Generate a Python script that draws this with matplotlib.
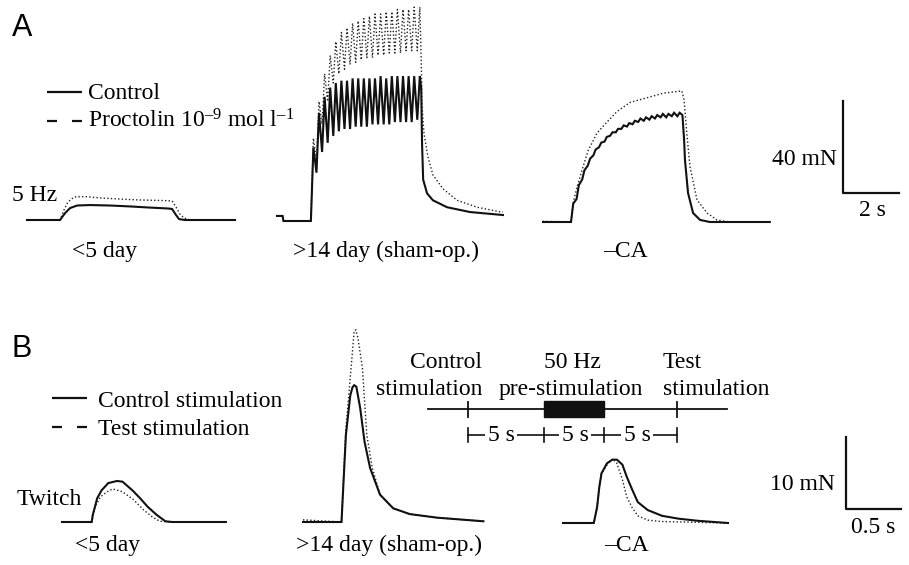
import matplotlib.pyplot as plt
from matplotlib.patches import Rectangle

plt.rcParams['font.family'] = ['Liberation Serif', 'DejaVu Serif']
plt.rcParams['mathtext.fontset'] = 'custom'
plt.rcParams['mathtext.rm'] = 'Liberation Serif'
plt.rcParams['mathtext.it'] = 'Liberation Serif:italic'

W, H = 909, 565

# ---------------- data: time (s), force (mN) ----------------
# A, 5 Hz stimulation, <5 day
a_young_ctrl_t = [0.00, 1.18, 1.36, 1.54, 1.79, 2.25, 2.96, 3.68, 4.39, 5.04, 5.18, 5.32, 5.43, 5.64, 7.43]
a_young_ctrl_f = [0.0, 0.0, 3.0, 5.2, 6.3, 6.5, 6.3, 5.9, 5.4, 5.0, 4.8, 2.2, 0.4, 0.0, 0.0]
a_young_proc_t = [0.00, 1.18, 1.32, 1.46, 1.68, 2.07, 2.61, 3.32, 4.04, 4.75, 5.18, 5.32, 5.46, 5.61, 5.82, 7.43]
a_young_proc_f = [0.0, 0.0, 4.3, 7.8, 10.0, 10.2, 9.6, 9.1, 8.7, 8.5, 8.3, 5.7, 2.6, 0.9, 0.0, 0.0]

# A, >14 day (sham-op.)
a_sham_ctrl_t = [0.00, 0.20, 0.23, 1.21,
                 1.30, 1.41, 1.50, 1.61, 1.70, 1.81, 1.90, 2.01, 2.10, 2.21,
                 2.30, 2.41, 2.50, 2.61, 2.70, 2.81, 2.90, 3.01, 3.10, 3.21,
                 3.30, 3.41, 3.50, 3.61, 3.70, 3.81, 3.90, 4.01, 4.10, 4.21,
                 4.30, 4.41, 4.50, 4.61, 4.70, 4.81, 4.90, 5.01, 5.10,
                 5.15, 5.18, 5.22, 5.36, 5.57, 6.07, 6.89, 8.07]
a_sham_ctrl_f = [2.2, 2.2, 0.0, 0.0,
                 32, 21, 47, 30, 54, 34, 58, 37, 60, 39,
                 61, 40, 61, 40, 62, 41, 62, 41, 62, 41,
                 62, 42, 62, 42, 63, 42, 62, 42, 63, 43,
                 63, 43, 63, 43, 63, 43, 63, 44, 63,
                 58, 34, 18, 12, 9, 6, 3.9, 2.6]
a_sham_proc_t = [0.00, 0.20, 0.23, 1.21,
                 1.30, 1.41, 1.50, 1.61, 1.70, 1.81, 1.90, 2.01, 2.10, 2.21,
                 2.30, 2.41, 2.50, 2.61, 2.70, 2.81, 2.90, 3.01, 3.10, 3.21,
                 3.30, 3.41, 3.50, 3.61, 3.70, 3.81, 3.90, 4.01, 4.10, 4.21,
                 4.30, 4.41, 4.50, 4.61, 4.70, 4.81, 4.90, 5.01, 5.10,
                 5.15, 5.18, 5.25, 5.39, 5.57, 5.93, 6.43, 7.14, 7.96, 8.07]
a_sham_proc_f = [2.2, 2.2, 0.0, 0.0,
                 36, 26, 52, 42, 64, 52, 72, 60, 78, 64,
                 82, 66, 84, 68, 86, 69, 87, 70, 88, 71,
                 89, 71, 90, 72, 90, 72, 91, 73, 91, 73,
                 92, 73, 92, 74, 92, 74, 93, 74, 93,
                 70, 50, 38, 28, 20, 14, 9, 6, 4, 4]

# A, -CA
a_ca_ctrl_t = [0.00, 1.00, 1.08, 1.20, 1.28, 1.40, 1.48, 1.60, 1.68, 1.80, 1.88,
               2.00, 2.08, 2.20, 2.28, 2.40, 2.48, 2.60, 2.68, 2.80, 2.88,
               3.00, 3.08, 3.20, 3.28, 3.40, 3.48, 3.60, 3.68, 3.80, 3.88,
               4.00, 4.08, 4.20, 4.28, 4.40, 4.48, 4.60, 4.68, 4.80, 4.88, 4.98,
               5.04, 5.07, 5.18, 5.36, 5.61, 5.96, 8.10]
a_ca_ctrl_f = [0.0, 0.0, 8.0, 10.0, 16.0, 18.5, 22.5, 24.5, 27.5, 29.0, 31.5,
               32.5, 34.5, 35.0, 37.0, 37.5, 39.0, 39.0, 40.5, 40.5, 42.0,
               41.5, 43.0, 42.5, 44.0, 43.5, 45.0, 44.0, 45.5, 44.5, 46.0,
               45.0, 46.5, 45.5, 47.0, 45.5, 47.0, 46.0, 47.5, 46.0, 47.5, 46.5,
               35.6, 27.0, 12.6, 3.9, 0.9, 0.0, 0.0]
a_ca_proc_t = [0.00, 1.00, 1.07, 1.21, 1.43, 1.61, 1.93, 2.29, 2.64, 3.11, 3.71, 4.29, 4.96,
               5.04, 5.14, 5.25, 5.50, 5.86, 6.21, 6.68, 8.10]
a_ca_proc_f = [0.3, 0.0, 8.0, 15.0, 24.0, 31.0, 38.7, 43.5, 48.0, 52.0, 54.0, 56.0, 57.0,
               53.0, 38.0, 24.0, 9.6, 3.9, 0.9, 0.0, 0.0]

# B, twitches, <5 day
b_young_ctrl_t = [0.00, 0.27, 0.28, 0.32, 0.36, 0.42, 0.50, 0.55, 0.64, 0.71, 0.78, 0.86, 0.94, 1.00, 1.49]
b_young_ctrl_f = [0.0, 0.0, 1.0, 3.3, 4.4, 5.4, 5.7, 5.6, 4.4, 3.3, 2.1, 1.0, 0.1, 0.0, 0.0]
b_young_test_t = [0.00, 0.27, 0.30, 0.35, 0.41, 0.46, 0.55, 0.65, 0.74, 0.83, 0.89, 1.00, 1.49]
b_young_test_f = [0.0, 0.0, 2.1, 3.5, 4.2, 4.6, 4.2, 3.1, 1.7, 0.6, 0.1, 0.0, 0.0]

# B, >14 day (sham-op.)
b_sham_ctrl_t = [0.00, 0.35, 0.39, 0.43, 0.45, 0.465, 0.485, 0.52, 0.56, 0.61, 0.70, 0.82, 0.97, 1.22, 1.64]
b_sham_ctrl_f = [0.0, 0.0, 12.1, 17.6, 18.7, 19.0, 18.8, 15.8, 11.1, 7.5, 3.8, 1.9, 1.1, 0.6, 0.1]
b_sham_test_t = [0.00, 0.35, 0.39, 0.43, 0.465, 0.48, 0.50, 0.54, 0.58, 0.63, 0.70, 0.82, 0.97, 1.22, 1.64]
b_sham_test_f = [0.3, 0.0, 13.0, 20.1, 26.5, 26.7, 25.5, 21.4, 12.1, 7.5, 3.8, 1.9, 1.1, 0.6, 0.1]

# B, -CA
b_ca_ctrl_t = [0.00, 0.28, 0.31, 0.33, 0.35, 0.40, 0.45, 0.49, 0.54, 0.58, 0.63, 0.68, 0.77, 0.90, 1.05, 1.23, 1.50]
b_ca_ctrl_f = [0.0, 0.0, 2.2, 5.0, 6.9, 8.3, 8.8, 8.8, 8.1, 6.4, 4.6, 2.9, 1.8, 1.0, 0.6, 0.3, 0.0]
b_ca_test_t = [0.00, 0.28, 0.31, 0.33, 0.35, 0.41, 0.45, 0.49, 0.54, 0.58, 0.63, 0.68, 0.77, 0.90, 1.50]
b_ca_test_f = [0.0, 0.0, 2.2, 5.0, 6.9, 8.3, 8.9, 8.3, 6.0, 3.6, 2.1, 1.0, 0.4, 0.2, 0.0]

group_labels = ['<5 day', '>14 day (sham-op.)', '\u2013CA']

# ---------------- layout (pixels) ----------------
A_SX, A_SY = 28.0, 2.3     # px per s, px per mN
B_SX, B_SY = 110.0, 7.2


def trace_axes(fig, x0, y0, sx, sy):
    ax = fig.add_axes([0, 0, 1, 1])
    ax.set_xlim(-x0 / sx, (W - x0) / sx)
    ax.set_ylim((y0 - H) / sy, y0 / sy)
    ax.axis('off')
    ax.patch.set_alpha(0)
    return ax


def draw_pair(ax, t1, f1, t2, f2):
    ax.plot(t2, f2, color='#222222', lw=1.0, ls=(0, (1, 1.6)))
    ax.plot(t1, f1, color='#111111', lw=1.5, solid_joinstyle='miter')


fig = plt.figure(figsize=(W / 100, H / 100), dpi=100)

draw_pair(trace_axes(fig, 27, 220, A_SX, A_SY), a_young_ctrl_t, a_young_ctrl_f, a_young_proc_t, a_young_proc_f)
draw_pair(trace_axes(fig, 277, 221, A_SX, A_SY), a_sham_ctrl_t, a_sham_ctrl_f, a_sham_proc_t, a_sham_proc_f)
draw_pair(trace_axes(fig, 543, 222, A_SX, A_SY), a_ca_ctrl_t, a_ca_ctrl_f, a_ca_proc_t, a_ca_proc_f)
draw_pair(trace_axes(fig, 62, 522, B_SX, B_SY), b_young_ctrl_t, b_young_ctrl_f, b_young_test_t, b_young_test_f)
draw_pair(trace_axes(fig, 303, 522, B_SX, B_SY), b_sham_ctrl_t, b_sham_ctrl_f, b_sham_test_t, b_sham_test_f)
draw_pair(trace_axes(fig, 563, 523, B_SX, B_SY), b_ca_ctrl_t, b_ca_ctrl_f, b_ca_test_t, b_ca_test_f)

# overlay in pixel coordinates for text and annotations
ax0 = fig.add_axes([0, 0, 1, 1])
ax0.set_xlim(0, W)
ax0.set_ylim(H, 0)
ax0.axis('off')
ax0.patch.set_alpha(0)

FS = 17
k = dict(color='#111111', lw=1.6, solid_capstyle='butt')

# panel letters
ax0.text(12, 36, 'A', family='Liberation Sans', fontsize=22, va='baseline')
ax0.text(12, 357, 'B', family='Liberation Sans', fontsize=22, va='baseline')

# legend A
ax0.plot([47, 82], [92, 92], **k)
ax0.plot([47, 57], [121, 121], **k)
ax0.plot([72, 82], [121, 121], **k)
ax0.text(88, 99, 'Control', fontsize=FS, va='baseline')
ax0.text(88, 128, 'Proctolin 10$^{\\mathregular{\u20139}}$ mol l$^{\\mathregular{\u20131}}$',
         fontsize=FS, va='baseline')
ax0.text(12, 201, '5 Hz', fontsize=FS, va='baseline')

# legend B
ax0.plot([52, 87], [398, 398], **k)
ax0.plot([52, 62], [427, 427], **k)
ax0.plot([77, 87], [427, 427], **k)
ax0.text(98, 407, 'Control stimulation', fontsize=FS, va='baseline')
ax0.text(98, 435, 'Test stimulation', fontsize=FS, va='baseline')
ax0.text(17, 505, 'Twitch', fontsize=FS, va='baseline')

# group labels
for cx, lab in zip([105, 386, 625], group_labels):
    ax0.text(cx, 257, lab, fontsize=FS, ha='center', va='baseline')
for cx, lab in zip([108, 389, 626], group_labels):
    ax0.text(cx, 551, lab, fontsize=FS, ha='center', va='baseline')

# scale bars
ax0.plot([843, 843, 843 + 2 * A_SX], [193 - 40 * A_SY, 193, 193], color='#111111', lw=1.6)
ax0.text(837, 165, '40 mN', fontsize=FS, ha='right', va='baseline')
ax0.text(872, 216, '2 s', fontsize=FS, ha='center', va='baseline')
ax0.plot([846, 846, 846 + 0.5 * B_SX], [509 - 10 * B_SY, 509, 509], color='#111111', lw=1.6)
ax0.text(835, 490, '10 mN', fontsize=FS, ha='right', va='baseline')
ax0.text(873, 533, '0.5 s', fontsize=FS, ha='center', va='baseline')

# stimulation protocol schematic
ax0.plot([428, 727], [409, 409], color='#111111', lw=1.3)
for x in (468, 677):
    ax0.plot([x, x], [402, 417], color='#111111', lw=1.3)
ax0.add_patch(Rectangle((544, 401), 60, 16, color='#111111'))
ax0.text(482, 368, 'Control', fontsize=FS, ha='right', va='baseline')
ax0.text(482, 395, 'stimulation', fontsize=FS, ha='right', va='baseline')
ax0.text(572, 368, '50 Hz', fontsize=FS, ha='center', va='baseline')
ax0.text(571, 395, 'pre-stimulation', fontsize=FS, ha='center', va='baseline')
ax0.text(663, 368, 'Test', fontsize=FS, ha='left', va='baseline')
ax0.text(663, 395, 'stimulation', fontsize=FS, ha='left', va='baseline')

ax0.plot([468, 677], [435, 435], color='#111111', lw=1.2)
for x in (468, 544, 604, 677):
    ax0.plot([x, x], [428, 442], color='#111111', lw=1.2)
for cx in (501, 575, 637):
    ax0.text(cx, 441, '5 s', fontsize=FS, ha='center', va='baseline',
             bbox=dict(boxstyle='square,pad=0.12', fc='white', ec='none'))

fig.savefig('out.png', dpi=100)
plt.close(fig)
